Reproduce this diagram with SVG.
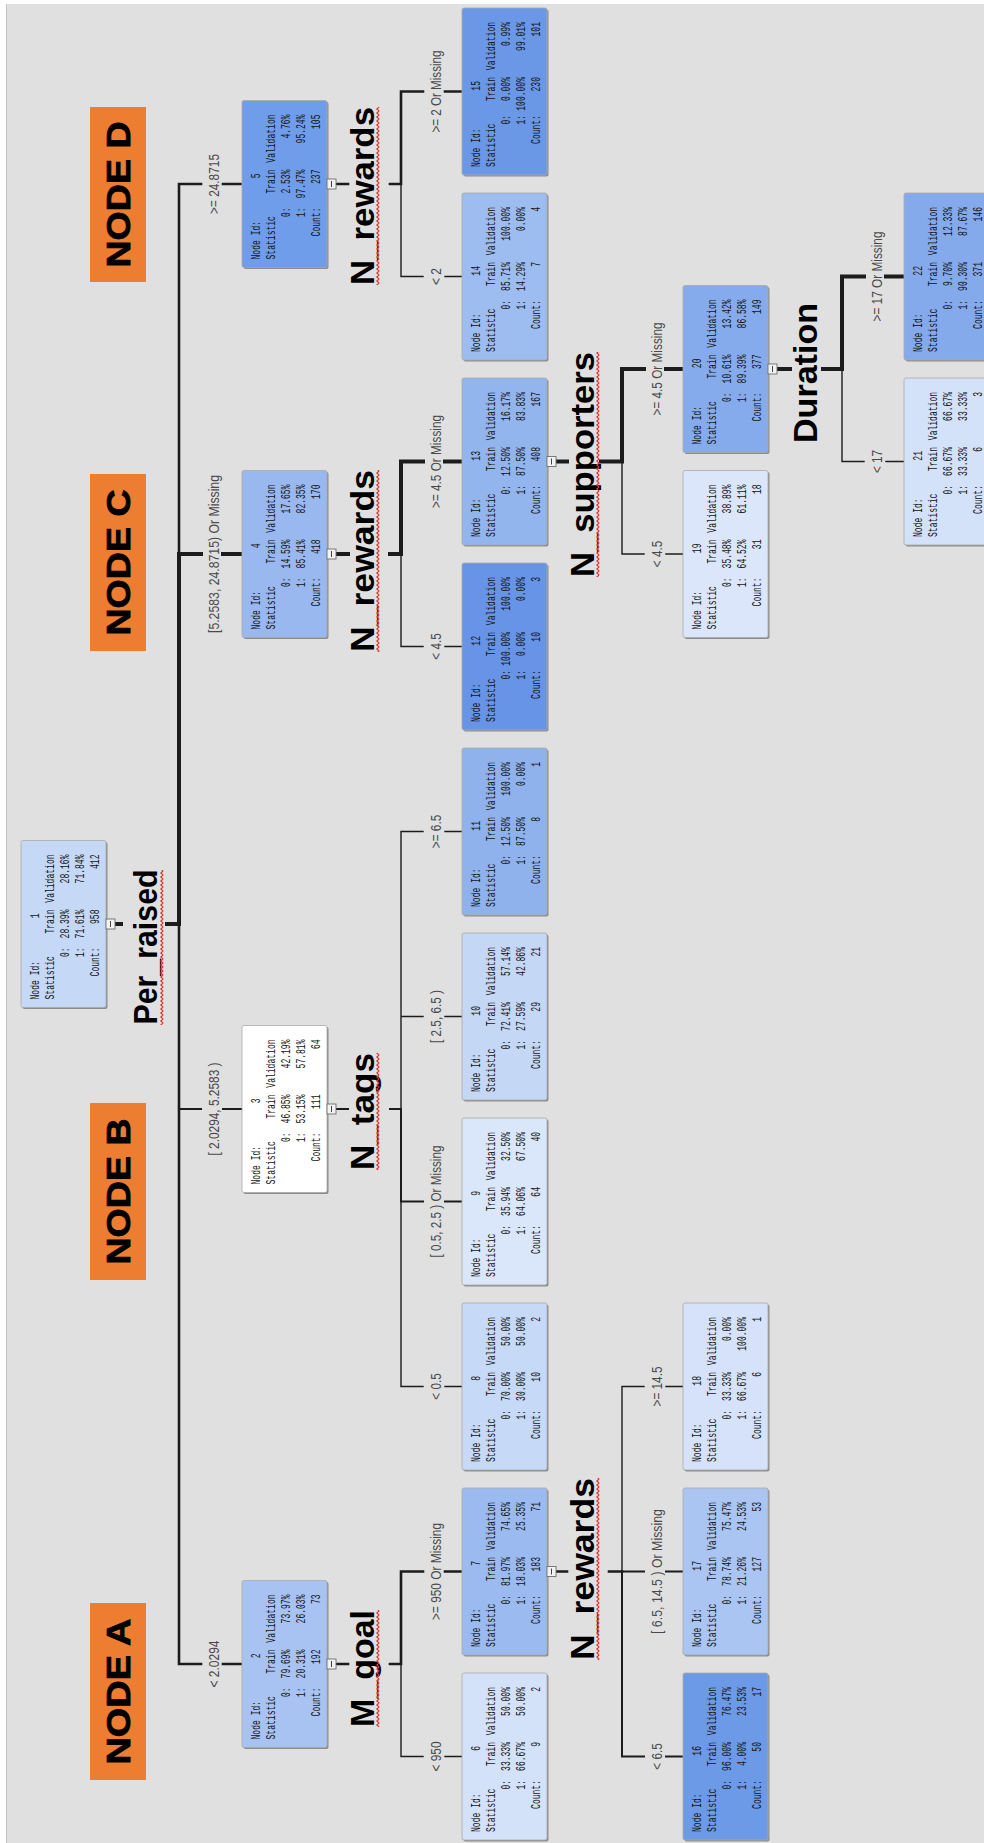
<svg xmlns="http://www.w3.org/2000/svg" width="984" height="1843" viewBox="0 0 984 1843">
<defs>
<style>
.bx{stroke:#a9a9a9;stroke-width:.8}
.sh{fill:#8c8c8c}
.nt text{font-family:"Liberation Mono","DejaVu Sans Mono",monospace;font-size:12px;fill:#141414}
.nt .e{text-anchor:end}
.hd rect{fill:#f2f2f2;stroke:#6e6e6e;stroke-width:.9}
.hd path{stroke:#444;stroke-width:1;fill:none}
.cn path{fill:none;stroke:#1c1c1c;stroke-linecap:square}
.w4{stroke-width:4}
.w3{stroke-width:2.6}
.w2{stroke-width:2}
.w1{stroke-width:1.4}
.el text{font-family:"Liberation Sans",Arial,sans-serif;font-size:14px;fill:#4a4a4a;text-anchor:middle}
.sv text{font-family:"Liberation Sans",Arial,sans-serif;font-size:33px;font-weight:bold;fill:#000;text-anchor:middle}
.sv rect{fill:url(#sq)}
.tag rect{fill:#ed7d31}
.tag text{font-family:"Liberation Sans",Arial,sans-serif;font-size:33px;font-weight:bold;fill:#000;stroke:#000;stroke-width:.8;text-anchor:middle}
</style>
<pattern id="sq" patternUnits="userSpaceOnUse" width="4" height="4"><path d="M0 3.2 L2 0.8 L4 3.2" fill="none" stroke="#e3342f" stroke-width="1.1"/></pattern>
</defs>
<rect width="984" height="1843" fill="#ffffff"/>
<rect x="6" y="4" width="978" height="1839" fill="#e0e0e0"/>
<path d="M6.5 4V1843" stroke="#c4c4c4" stroke-width="1"/>
<g transform="translate(0,1843) rotate(-90)">
<g id="connectors" class="cn">
<path class="w4" d="M919 115V121M919 167V179H1289"/>
<path class="w3" d="M1289 179H1659V201M1659 223V242"/>
<path class="w4" d="M1289 179V201M1289 223V242"/>
<path class="w3" d="M919 179H179V201M179 223V242"/>
<path class="w2" d="M734 179V201M734 223V242"/>
<path class="w3" d="M1659 336V348M1659 390V401H1751.5V423M1751.5 445V462"/>
<path class="w1" d="M1659 401H1566.5V423M1566.5 445V462"/>
<path class="w4" d="M1289 336V348M1289 390V401H1381.5V423M1381.5 445V462"/>
<path class="w1" d="M1289 401H1196.5V423M1196.5 445V462"/>
<path class="w2" d="M734 336V348M734 390V401H641.5V423M641.5 445V462"/>
<path class="w1" d="M641.5 401H456.5V423M456.5 445V462M734 401H1011.5V423M1011.5 445V462M826.5 401V423M826.5 445V462"/>
<path class="w3" d="M179 336V348M179 390V401H271.5V423M271.5 445V462"/>
<path class="w1" d="M179 401H86.5V423M86.5 445V462"/>
<path class="w4" d="M1381.5 556V567M1381.5 601V622H1474V644M1474 666V683"/>
<path class="w1" d="M1381.5 622H1289V644M1289 666V683"/>
<path class="w3" d="M271.5 556V567M271.5 609V622"/>
<path class="w2" d="M271.5 622H86.5V644M86.5 666V683M271.5 622V644M271.5 666V683"/>
<path class="w1" d="M271.5 622H456.5V644M456.5 666V683"/>
<path class="w4" d="M1474 777V790M1474 823V842H1566.5V864M1566.5 886V904"/>
<path class="w1" d="M1474 842H1381.5V864M1381.5 886V904"/>
</g>
<g id="edge-labels" class="el">
<text x="1659" y="219" textLength="60" lengthAdjust="spacingAndGlyphs">&gt;= 24.8715</text>
<text x="1289" y="219" textLength="158" lengthAdjust="spacingAndGlyphs">[5.2583, 24.8715) Or Missing</text>
<text x="734" y="219" textLength="93" lengthAdjust="spacingAndGlyphs">[ 2.0294, 5.2583 )</text>
<text x="179" y="219" textLength="47" lengthAdjust="spacingAndGlyphs">&lt; 2.0294</text>
<text x="1751.5" y="441" textLength="82" lengthAdjust="spacingAndGlyphs">&gt;= 2 Or Missing</text>
<text x="1566.5" y="441" textLength="17" lengthAdjust="spacingAndGlyphs">&lt; 2</text>
<text x="1381.5" y="441" textLength="93" lengthAdjust="spacingAndGlyphs">&gt;= 4.5 Or Missing</text>
<text x="1196.5" y="441" textLength="26.5" lengthAdjust="spacingAndGlyphs">&lt; 4.5</text>
<text x="1011.5" y="441" textLength="33.5" lengthAdjust="spacingAndGlyphs">&gt;= 6.5</text>
<text x="826.5" y="441" textLength="53" lengthAdjust="spacingAndGlyphs">[ 2.5, 6.5 )</text>
<text x="641.5" y="441" textLength="112" lengthAdjust="spacingAndGlyphs">[ 0.5, 2.5 ) Or Missing</text>
<text x="456.5" y="441" textLength="26.5" lengthAdjust="spacingAndGlyphs">&lt; 0.5</text>
<text x="271.5" y="441" textLength="97" lengthAdjust="spacingAndGlyphs">&gt;= 950 Or Missing</text>
<text x="86.5" y="441" textLength="30" lengthAdjust="spacingAndGlyphs">&lt; 950</text>
<text x="1474" y="662" textLength="93" lengthAdjust="spacingAndGlyphs">&gt;= 4.5 Or Missing</text>
<text x="1289" y="662" textLength="26.5" lengthAdjust="spacingAndGlyphs">&lt; 4.5</text>
<text x="456.5" y="662" textLength="40" lengthAdjust="spacingAndGlyphs">&gt;= 14.5</text>
<text x="271.5" y="662" textLength="125" lengthAdjust="spacingAndGlyphs">[ 6.5, 14.5 ) Or Missing</text>
<text x="86.5" y="662" textLength="26.5" lengthAdjust="spacingAndGlyphs">&lt; 6.5</text>
<text x="1566.5" y="882" textLength="90" lengthAdjust="spacingAndGlyphs">&gt;= 17 Or Missing</text>
<text x="1381.5" y="882" textLength="23" lengthAdjust="spacingAndGlyphs">&lt; 17</text>
</g>
<g id="node1" transform="translate(835.5,21)"><rect class="sh" x="-1.5" y="1.5" width="167" height="85" rx="2"/><rect class="bx" width="167" height="85" rx="2" fill="#c5d8f6"/><g class="nt" transform="scale(.67,1)"><text x="12" y="18">Node Id:</text><text class="e" x="140.3" y="18">1</text><text x="12" y="33">Statistic</text><text class="e" x="146.3" y="33">Train</text><text class="e" x="228.4" y="33">Validation</text><text class="e" x="89.6" y="48">0:</text><text class="e" x="146.3" y="48">28.39%</text><text class="e" x="228.4" y="48">28.16%</text><text class="e" x="89.6" y="63">1:</text><text class="e" x="146.3" y="63">71.61%</text><text class="e" x="228.4" y="63">71.84%</text><text class="e" x="89.6" y="78">Count:</text><text class="e" x="146.3" y="78">958</text><text class="e" x="228.4" y="78">412</text></g><g class="hd"><rect x="78.5" y="85" width="10" height="9"/><path d="M80.5 89.5H86.5"/></g></g>
<g id="node2" transform="translate(95.5,242)"><rect class="sh" x="-1.5" y="1.5" width="167" height="85" rx="2"/><rect class="bx" width="167" height="85" rx="2" fill="#a8c3f2"/><g class="nt" transform="scale(.67,1)"><text x="12" y="18">Node Id:</text><text class="e" x="140.3" y="18">2</text><text x="12" y="33">Statistic</text><text class="e" x="146.3" y="33">Train</text><text class="e" x="228.4" y="33">Validation</text><text class="e" x="89.6" y="48">0:</text><text class="e" x="146.3" y="48">79.69%</text><text class="e" x="228.4" y="48">73.97%</text><text class="e" x="89.6" y="63">1:</text><text class="e" x="146.3" y="63">20.31%</text><text class="e" x="228.4" y="63">26.03%</text><text class="e" x="89.6" y="78">Count:</text><text class="e" x="146.3" y="78">192</text><text class="e" x="228.4" y="78">73</text></g><g class="hd"><rect x="78.5" y="85" width="10" height="9"/><path d="M80.5 89.5H86.5"/></g></g>
<g id="node3" transform="translate(650.5,242)"><rect class="sh" x="-1.5" y="1.5" width="167" height="85" rx="2"/><rect class="bx" width="167" height="85" rx="2" fill="#ffffff"/><g class="nt" transform="scale(.67,1)"><text x="12" y="18">Node Id:</text><text class="e" x="140.3" y="18">3</text><text x="12" y="33">Statistic</text><text class="e" x="146.3" y="33">Train</text><text class="e" x="228.4" y="33">Validation</text><text class="e" x="89.6" y="48">0:</text><text class="e" x="146.3" y="48">46.85%</text><text class="e" x="228.4" y="48">42.19%</text><text class="e" x="89.6" y="63">1:</text><text class="e" x="146.3" y="63">53.15%</text><text class="e" x="228.4" y="63">57.81%</text><text class="e" x="89.6" y="78">Count:</text><text class="e" x="146.3" y="78">111</text><text class="e" x="228.4" y="78">64</text></g><g class="hd"><rect x="78.5" y="85" width="10" height="9"/><path d="M80.5 89.5H86.5"/></g></g>
<g id="node4" transform="translate(1205.5,242)"><rect class="sh" x="-1.5" y="1.5" width="167" height="85" rx="2"/><rect class="bx" width="167" height="85" rx="2" fill="#98b8ef"/><g class="nt" transform="scale(.67,1)"><text x="12" y="18">Node Id:</text><text class="e" x="140.3" y="18">4</text><text x="12" y="33">Statistic</text><text class="e" x="146.3" y="33">Train</text><text class="e" x="228.4" y="33">Validation</text><text class="e" x="89.6" y="48">0:</text><text class="e" x="146.3" y="48">14.59%</text><text class="e" x="228.4" y="48">17.65%</text><text class="e" x="89.6" y="63">1:</text><text class="e" x="146.3" y="63">85.41%</text><text class="e" x="228.4" y="63">82.35%</text><text class="e" x="89.6" y="78">Count:</text><text class="e" x="146.3" y="78">418</text><text class="e" x="228.4" y="78">170</text></g><g class="hd"><rect x="78.5" y="85" width="10" height="9"/><path d="M80.5 89.5H86.5"/></g></g>
<g id="node5" transform="translate(1575.5,242)"><rect class="sh" x="-1.5" y="1.5" width="167" height="85" rx="2"/><rect class="bx" width="167" height="85" rx="2" fill="#6f9de9"/><g class="nt" transform="scale(.67,1)"><text x="12" y="18">Node Id:</text><text class="e" x="140.3" y="18">5</text><text x="12" y="33">Statistic</text><text class="e" x="146.3" y="33">Train</text><text class="e" x="228.4" y="33">Validation</text><text class="e" x="89.6" y="48">0:</text><text class="e" x="146.3" y="48">2.53%</text><text class="e" x="228.4" y="48">4.76%</text><text class="e" x="89.6" y="63">1:</text><text class="e" x="146.3" y="63">97.47%</text><text class="e" x="228.4" y="63">95.24%</text><text class="e" x="89.6" y="78">Count:</text><text class="e" x="146.3" y="78">237</text><text class="e" x="228.4" y="78">105</text></g><g class="hd"><rect x="78.5" y="85" width="10" height="9"/><path d="M80.5 89.5H86.5"/></g></g>
<g id="node6" transform="translate(3,462)"><rect class="sh" x="-1.5" y="1.5" width="167" height="85" rx="2"/><rect class="bx" width="167" height="85" rx="2" fill="#d4e2f9"/><g class="nt" transform="scale(.67,1)"><text x="12" y="18">Node Id:</text><text class="e" x="140.3" y="18">6</text><text x="12" y="33">Statistic</text><text class="e" x="146.3" y="33">Train</text><text class="e" x="228.4" y="33">Validation</text><text class="e" x="89.6" y="48">0:</text><text class="e" x="146.3" y="48">33.33%</text><text class="e" x="228.4" y="48">50.00%</text><text class="e" x="89.6" y="63">1:</text><text class="e" x="146.3" y="63">66.67%</text><text class="e" x="228.4" y="63">50.00%</text><text class="e" x="89.6" y="78">Count:</text><text class="e" x="146.3" y="78">9</text><text class="e" x="228.4" y="78">2</text></g></g>
<g id="node7" transform="translate(188,462)"><rect class="sh" x="-1.5" y="1.5" width="167" height="85" rx="2"/><rect class="bx" width="167" height="85" rx="2" fill="#9bbbf0"/><g class="nt" transform="scale(.67,1)"><text x="12" y="18">Node Id:</text><text class="e" x="140.3" y="18">7</text><text x="12" y="33">Statistic</text><text class="e" x="146.3" y="33">Train</text><text class="e" x="228.4" y="33">Validation</text><text class="e" x="89.6" y="48">0:</text><text class="e" x="146.3" y="48">81.97%</text><text class="e" x="228.4" y="48">74.65%</text><text class="e" x="89.6" y="63">1:</text><text class="e" x="146.3" y="63">18.03%</text><text class="e" x="228.4" y="63">25.35%</text><text class="e" x="89.6" y="78">Count:</text><text class="e" x="146.3" y="78">183</text><text class="e" x="228.4" y="78">71</text></g><g class="hd"><rect x="78.5" y="85" width="10" height="9"/><path d="M80.5 89.5H86.5"/></g></g>
<g id="node8" transform="translate(373,462)"><rect class="sh" x="-1.5" y="1.5" width="167" height="85" rx="2"/><rect class="bx" width="167" height="85" rx="2" fill="#c6d9f6"/><g class="nt" transform="scale(.67,1)"><text x="12" y="18">Node Id:</text><text class="e" x="140.3" y="18">8</text><text x="12" y="33">Statistic</text><text class="e" x="146.3" y="33">Train</text><text class="e" x="228.4" y="33">Validation</text><text class="e" x="89.6" y="48">0:</text><text class="e" x="146.3" y="48">70.00%</text><text class="e" x="228.4" y="48">50.00%</text><text class="e" x="89.6" y="63">1:</text><text class="e" x="146.3" y="63">30.00%</text><text class="e" x="228.4" y="63">50.00%</text><text class="e" x="89.6" y="78">Count:</text><text class="e" x="146.3" y="78">10</text><text class="e" x="228.4" y="78">2</text></g></g>
<g id="node9" transform="translate(558,462)"><rect class="sh" x="-1.5" y="1.5" width="167" height="85" rx="2"/><rect class="bx" width="167" height="85" rx="2" fill="#dae6fa"/><g class="nt" transform="scale(.67,1)"><text x="12" y="18">Node Id:</text><text class="e" x="140.3" y="18">9</text><text x="12" y="33">Statistic</text><text class="e" x="146.3" y="33">Train</text><text class="e" x="228.4" y="33">Validation</text><text class="e" x="89.6" y="48">0:</text><text class="e" x="146.3" y="48">35.94%</text><text class="e" x="228.4" y="48">32.50%</text><text class="e" x="89.6" y="63">1:</text><text class="e" x="146.3" y="63">64.06%</text><text class="e" x="228.4" y="63">67.50%</text><text class="e" x="89.6" y="78">Count:</text><text class="e" x="146.3" y="78">64</text><text class="e" x="228.4" y="78">40</text></g></g>
<g id="node10" transform="translate(743,462)"><rect class="sh" x="-1.5" y="1.5" width="167" height="85" rx="2"/><rect class="bx" width="167" height="85" rx="2" fill="#c4d7f5"/><g class="nt" transform="scale(.67,1)"><text x="12" y="18">Node Id:</text><text class="e" x="140.3" y="18">10</text><text x="12" y="33">Statistic</text><text class="e" x="146.3" y="33">Train</text><text class="e" x="228.4" y="33">Validation</text><text class="e" x="89.6" y="48">0:</text><text class="e" x="146.3" y="48">72.41%</text><text class="e" x="228.4" y="48">57.14%</text><text class="e" x="89.6" y="63">1:</text><text class="e" x="146.3" y="63">27.59%</text><text class="e" x="228.4" y="63">42.86%</text><text class="e" x="89.6" y="78">Count:</text><text class="e" x="146.3" y="78">29</text><text class="e" x="228.4" y="78">21</text></g></g>
<g id="node11" transform="translate(928,462)"><rect class="sh" x="-1.5" y="1.5" width="167" height="85" rx="2"/><rect class="bx" width="167" height="85" rx="2" fill="#8fb2ed"/><g class="nt" transform="scale(.67,1)"><text x="12" y="18">Node Id:</text><text class="e" x="140.3" y="18">11</text><text x="12" y="33">Statistic</text><text class="e" x="146.3" y="33">Train</text><text class="e" x="228.4" y="33">Validation</text><text class="e" x="89.6" y="48">0:</text><text class="e" x="146.3" y="48">12.50%</text><text class="e" x="228.4" y="48">100.00%</text><text class="e" x="89.6" y="63">1:</text><text class="e" x="146.3" y="63">87.50%</text><text class="e" x="228.4" y="63">0.00%</text><text class="e" x="89.6" y="78">Count:</text><text class="e" x="146.3" y="78">8</text><text class="e" x="228.4" y="78">1</text></g></g>
<g id="node12" transform="translate(1113,462)"><rect class="sh" x="-1.5" y="1.5" width="167" height="85" rx="2"/><rect class="bx" width="167" height="85" rx="2" fill="#6794e6"/><g class="nt" transform="scale(.67,1)"><text x="12" y="18">Node Id:</text><text class="e" x="140.3" y="18">12</text><text x="12" y="33">Statistic</text><text class="e" x="146.3" y="33">Train</text><text class="e" x="228.4" y="33">Validation</text><text class="e" x="89.6" y="48">0:</text><text class="e" x="146.3" y="48">100.00%</text><text class="e" x="228.4" y="48">100.00%</text><text class="e" x="89.6" y="63">1:</text><text class="e" x="146.3" y="63">0.00%</text><text class="e" x="228.4" y="63">0.00%</text><text class="e" x="89.6" y="78">Count:</text><text class="e" x="146.3" y="78">10</text><text class="e" x="228.4" y="78">3</text></g></g>
<g id="node13" transform="translate(1298,462)"><rect class="sh" x="-1.5" y="1.5" width="167" height="85" rx="2"/><rect class="bx" width="167" height="85" rx="2" fill="#93b5ee"/><g class="nt" transform="scale(.67,1)"><text x="12" y="18">Node Id:</text><text class="e" x="140.3" y="18">13</text><text x="12" y="33">Statistic</text><text class="e" x="146.3" y="33">Train</text><text class="e" x="228.4" y="33">Validation</text><text class="e" x="89.6" y="48">0:</text><text class="e" x="146.3" y="48">12.50%</text><text class="e" x="228.4" y="48">16.17%</text><text class="e" x="89.6" y="63">1:</text><text class="e" x="146.3" y="63">87.50%</text><text class="e" x="228.4" y="63">83.83%</text><text class="e" x="89.6" y="78">Count:</text><text class="e" x="146.3" y="78">408</text><text class="e" x="228.4" y="78">167</text></g><g class="hd"><rect x="78.5" y="85" width="10" height="9"/><path d="M80.5 89.5H86.5"/></g></g>
<g id="node14" transform="translate(1483,462)"><rect class="sh" x="-1.5" y="1.5" width="167" height="85" rx="2"/><rect class="bx" width="167" height="85" rx="2" fill="#9dbdf0"/><g class="nt" transform="scale(.67,1)"><text x="12" y="18">Node Id:</text><text class="e" x="140.3" y="18">14</text><text x="12" y="33">Statistic</text><text class="e" x="146.3" y="33">Train</text><text class="e" x="228.4" y="33">Validation</text><text class="e" x="89.6" y="48">0:</text><text class="e" x="146.3" y="48">85.71%</text><text class="e" x="228.4" y="48">100.00%</text><text class="e" x="89.6" y="63">1:</text><text class="e" x="146.3" y="63">14.29%</text><text class="e" x="228.4" y="63">0.00%</text><text class="e" x="89.6" y="78">Count:</text><text class="e" x="146.3" y="78">7</text><text class="e" x="228.4" y="78">4</text></g></g>
<g id="node15" transform="translate(1668,462)"><rect class="sh" x="-1.5" y="1.5" width="167" height="85" rx="2"/><rect class="bx" width="167" height="85" rx="2" fill="#6a98e7"/><g class="nt" transform="scale(.67,1)"><text x="12" y="18">Node Id:</text><text class="e" x="140.3" y="18">15</text><text x="12" y="33">Statistic</text><text class="e" x="146.3" y="33">Train</text><text class="e" x="228.4" y="33">Validation</text><text class="e" x="89.6" y="48">0:</text><text class="e" x="146.3" y="48">0.00%</text><text class="e" x="228.4" y="48">0.99%</text><text class="e" x="89.6" y="63">1:</text><text class="e" x="146.3" y="63">100.00%</text><text class="e" x="228.4" y="63">99.01%</text><text class="e" x="89.6" y="78">Count:</text><text class="e" x="146.3" y="78">230</text><text class="e" x="228.4" y="78">101</text></g></g>
<g id="node16" transform="translate(3,683)"><rect class="sh" x="-1.5" y="1.5" width="167" height="85" rx="2"/><rect class="bx" width="167" height="85" rx="2" fill="#6d9ae7"/><g class="nt" transform="scale(.67,1)"><text x="12" y="18">Node Id:</text><text class="e" x="140.3" y="18">16</text><text x="12" y="33">Statistic</text><text class="e" x="146.3" y="33">Train</text><text class="e" x="228.4" y="33">Validation</text><text class="e" x="89.6" y="48">0:</text><text class="e" x="146.3" y="48">96.00%</text><text class="e" x="228.4" y="48">76.47%</text><text class="e" x="89.6" y="63">1:</text><text class="e" x="146.3" y="63">4.00%</text><text class="e" x="228.4" y="63">23.53%</text><text class="e" x="89.6" y="78">Count:</text><text class="e" x="146.3" y="78">50</text><text class="e" x="228.4" y="78">17</text></g></g>
<g id="node17" transform="translate(188,683)"><rect class="sh" x="-1.5" y="1.5" width="167" height="85" rx="2"/><rect class="bx" width="167" height="85" rx="2" fill="#aac5f2"/><g class="nt" transform="scale(.67,1)"><text x="12" y="18">Node Id:</text><text class="e" x="140.3" y="18">17</text><text x="12" y="33">Statistic</text><text class="e" x="146.3" y="33">Train</text><text class="e" x="228.4" y="33">Validation</text><text class="e" x="89.6" y="48">0:</text><text class="e" x="146.3" y="48">78.74%</text><text class="e" x="228.4" y="48">75.47%</text><text class="e" x="89.6" y="63">1:</text><text class="e" x="146.3" y="63">21.26%</text><text class="e" x="228.4" y="63">24.53%</text><text class="e" x="89.6" y="78">Count:</text><text class="e" x="146.3" y="78">127</text><text class="e" x="228.4" y="78">53</text></g></g>
<g id="node18" transform="translate(373,683)"><rect class="sh" x="-1.5" y="1.5" width="167" height="85" rx="2"/><rect class="bx" width="167" height="85" rx="2" fill="#d5e2f9"/><g class="nt" transform="scale(.67,1)"><text x="12" y="18">Node Id:</text><text class="e" x="140.3" y="18">18</text><text x="12" y="33">Statistic</text><text class="e" x="146.3" y="33">Train</text><text class="e" x="228.4" y="33">Validation</text><text class="e" x="89.6" y="48">0:</text><text class="e" x="146.3" y="48">33.33%</text><text class="e" x="228.4" y="48">0.00%</text><text class="e" x="89.6" y="63">1:</text><text class="e" x="146.3" y="63">66.67%</text><text class="e" x="228.4" y="63">100.00%</text><text class="e" x="89.6" y="78">Count:</text><text class="e" x="146.3" y="78">6</text><text class="e" x="228.4" y="78">1</text></g></g>
<g id="node19" transform="translate(1205.5,683)"><rect class="sh" x="-1.5" y="1.5" width="167" height="85" rx="2"/><rect class="bx" width="167" height="85" rx="2" fill="#dbe6fa"/><g class="nt" transform="scale(.67,1)"><text x="12" y="18">Node Id:</text><text class="e" x="140.3" y="18">19</text><text x="12" y="33">Statistic</text><text class="e" x="146.3" y="33">Train</text><text class="e" x="228.4" y="33">Validation</text><text class="e" x="89.6" y="48">0:</text><text class="e" x="146.3" y="48">35.48%</text><text class="e" x="228.4" y="48">38.89%</text><text class="e" x="89.6" y="63">1:</text><text class="e" x="146.3" y="63">64.52%</text><text class="e" x="228.4" y="63">61.11%</text><text class="e" x="89.6" y="78">Count:</text><text class="e" x="146.3" y="78">31</text><text class="e" x="228.4" y="78">18</text></g></g>
<g id="node20" transform="translate(1390.5,683)"><rect class="sh" x="-1.5" y="1.5" width="167" height="85" rx="2"/><rect class="bx" width="167" height="85" rx="2" fill="#86abec"/><g class="nt" transform="scale(.67,1)"><text x="12" y="18">Node Id:</text><text class="e" x="140.3" y="18">20</text><text x="12" y="33">Statistic</text><text class="e" x="146.3" y="33">Train</text><text class="e" x="228.4" y="33">Validation</text><text class="e" x="89.6" y="48">0:</text><text class="e" x="146.3" y="48">10.61%</text><text class="e" x="228.4" y="48">13.42%</text><text class="e" x="89.6" y="63">1:</text><text class="e" x="146.3" y="63">89.39%</text><text class="e" x="228.4" y="63">86.58%</text><text class="e" x="89.6" y="78">Count:</text><text class="e" x="146.3" y="78">377</text><text class="e" x="228.4" y="78">149</text></g><g class="hd"><rect x="78.5" y="85" width="10" height="9"/><path d="M80.5 89.5H86.5"/></g></g>
<g id="node21" transform="translate(1298,904)"><rect class="sh" x="-1.5" y="1.5" width="167" height="85" rx="2"/><rect class="bx" width="167" height="85" rx="2" fill="#d4e2f9"/><g class="nt" transform="scale(.67,1)"><text x="12" y="18">Node Id:</text><text class="e" x="140.3" y="18">21</text><text x="12" y="33">Statistic</text><text class="e" x="146.3" y="33">Train</text><text class="e" x="228.4" y="33">Validation</text><text class="e" x="89.6" y="48">0:</text><text class="e" x="146.3" y="48">66.67%</text><text class="e" x="228.4" y="48">66.67%</text><text class="e" x="89.6" y="63">1:</text><text class="e" x="146.3" y="63">33.33%</text><text class="e" x="228.4" y="63">33.33%</text><text class="e" x="89.6" y="78">Count:</text><text class="e" x="146.3" y="78">6</text><text class="e" x="228.4" y="78">3</text></g></g>
<g id="node22" transform="translate(1483,904)"><rect class="sh" x="-1.5" y="1.5" width="167" height="85" rx="2"/><rect class="bx" width="167" height="85" rx="2" fill="#85aaec"/><g class="nt" transform="scale(.67,1)"><text x="12" y="18">Node Id:</text><text class="e" x="140.3" y="18">22</text><text x="12" y="33">Statistic</text><text class="e" x="146.3" y="33">Train</text><text class="e" x="228.4" y="33">Validation</text><text class="e" x="89.6" y="48">0:</text><text class="e" x="146.3" y="48">9.70%</text><text class="e" x="228.4" y="48">12.33%</text><text class="e" x="89.6" y="63">1:</text><text class="e" x="146.3" y="63">90.30%</text><text class="e" x="228.4" y="63">87.67%</text><text class="e" x="89.6" y="78">Count:</text><text class="e" x="146.3" y="78">371</text><text class="e" x="228.4" y="78">146</text></g></g>
<g id="split-labels" class="sv">
<text x="896" y="157" textLength="155" lengthAdjust="spacingAndGlyphs">Per_raised</text><rect x="818" y="160" width="155" height="4"/>
<text x="1647" y="374" textLength="178" lengthAdjust="spacingAndGlyphs">N_rewards</text><rect x="1558" y="376" width="178" height="4"/>
<text x="1282" y="374" textLength="182" lengthAdjust="spacingAndGlyphs">N_rewards</text><rect x="1191" y="376" width="182" height="4"/>
<text x="731.5" y="374" textLength="117" lengthAdjust="spacingAndGlyphs">N_tags</text><rect x="673" y="376" width="117" height="4"/>
<text x="174.5" y="374" textLength="117" lengthAdjust="spacingAndGlyphs">M_goal</text><rect x="116" y="376" width="117" height="4"/>
<text x="274" y="594" textLength="182" lengthAdjust="spacingAndGlyphs">N_rewards</text><rect x="183" y="596" width="182" height="4"/>
<text x="1378.5" y="594" textLength="225" lengthAdjust="spacingAndGlyphs">N_supporters</text><rect x="1266" y="596" width="225" height="4"/>
<text x="1470" y="817" textLength="140" lengthAdjust="spacingAndGlyphs">Duration</text>
</g>
<g id="tag-node-d" class="tag"><rect x="1561" y="90" width="175" height="56"/><text x="1648.5" y="130" textLength="146" lengthAdjust="spacingAndGlyphs">NODE D</text></g>
<g id="tag-node-c" class="tag"><rect x="1192" y="90" width="177" height="56"/><text x="1280.5" y="130" textLength="146" lengthAdjust="spacingAndGlyphs">NODE C</text></g>
<g id="tag-node-b" class="tag"><rect x="563" y="90" width="177" height="56"/><text x="651.5" y="130" textLength="146" lengthAdjust="spacingAndGlyphs">NODE B</text></g>
<g id="tag-node-a" class="tag"><rect x="63" y="90" width="177" height="56"/><text x="151.5" y="130" textLength="146" lengthAdjust="spacingAndGlyphs">NODE A</text></g>
</g>
</svg>
